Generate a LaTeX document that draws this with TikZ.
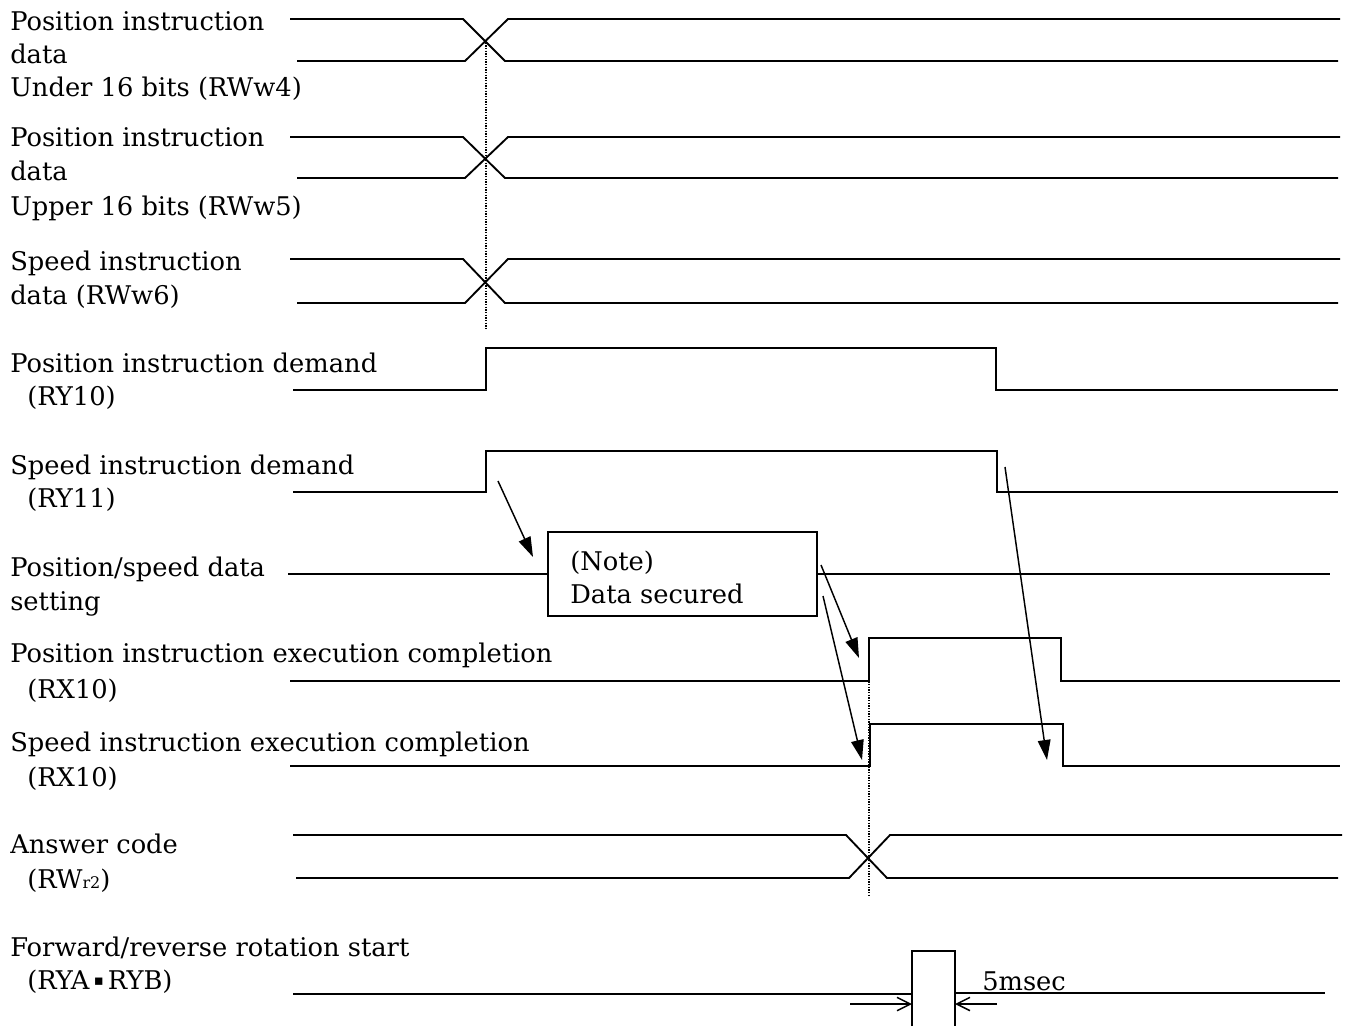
\documentclass[tikz,border=0pt]{standalone}
\usepackage{fontspec}
\setmainfont{DejaVu Serif}
\newfontfamily\symfont{DejaVu Sans}
\usetikzlibrary{arrows.meta}
\begin{document}
\begin{tikzpicture}[x=0.75pt,y=-0.75pt,
  wave/.style={line width=1.4pt, line join=miter},
  lbl/.style={anchor=base west, inner sep=0pt, font=\fontsize{19.3}{19.3}\selectfont},
  cause/.style={line width=1.1pt, -{Triangle[length=15pt,width=9.5pt]}},
  gap/.style={line width=1.1pt, -{Straight Barb[length=10pt,width=10pt]}},
  guide/.style={line width=0.9pt, dash pattern=on 1pt off 1pt}]
\useasboundingbox (0,0) rectangle (1345,1026);

% ---- signal names ----
\node[lbl] (l1a) at (10,30)  {Position instruction};
\node[lbl] (l1b) at (10,63)  {data};
\node[lbl] (l1c) at (10,96)  {Under 16 bits (RWw4)};
\node[lbl] (l2a) at (10,146) {Position instruction};
\node[lbl] (l2b) at (10,180) {data};
\node[lbl] (l2c) at (10,215) {Upper 16 bits (RWw5)};
\node[lbl] (l3a) at (10,270) {Speed instruction};
\node[lbl] (l3b) at (10,304) {data (RWw6)};
\node[lbl] (l4a) at (10,372) {Position instruction demand};
\node[lbl] (l4b) at (27,405) {(RY10)};
\node[lbl] (l5a) at (10,474) {Speed instruction demand};
\node[lbl] (l5b) at (27,507) {(RY11)};
\node[lbl] (l6a) at (10,576) {Position/speed data};
\node[lbl] (l6b) at (10,610) {setting};
\node[lbl] (l7a) at (10,662) {Position instruction execution completion};
\node[lbl] (l7b) at (27,698) {(RX10)};
\node[lbl] (l8a) at (10,751) {Speed instruction execution completion};
\node[lbl] (l8b) at (27,786) {(RX10)};
\node[lbl] (l9a) at (10,853) {Answer code};
\node[lbl] (l9b) at (27,888) {(RW{\fontsize{12}{12}\selectfont r2})};
\node[lbl] (l10a) at (10,956) {Forward/reverse rotation start};
\node[lbl] (l10b) at (27,989) {(RYA\,\raisebox{2.5pt}{\symfont\fontsize{11}{11}\selectfont ▪}\,RYB)};

% ---- data buses ----
\draw[wave] (290,19) -- (463,19) -- (505,61) -- (1338,61);
\draw[wave] (297,61) -- (465,61) -- (508,19) -- (1340,19);
\draw[wave] (290,137) -- (463,137) -- (505,178) -- (1338,178);
\draw[wave] (297,178) -- (465,178) -- (508,137) -- (1340,137);
\draw[wave] (290,259) -- (463,259) -- (505,303) -- (1338,303);
\draw[wave] (297,303) -- (465,303) -- (508,259) -- (1340,259);

% ---- demand bits ----
\draw[wave] (293,390) -- (486,390) -- (486,348) -- (996,348) -- (996,390) -- (1338,390);
\draw[wave] (293,492) -- (486,492) -- (486,451) -- (997,451) -- (997,492) -- (1338,492);

% ---- data setting with note ----
\node[draw, line width=1.4pt, minimum width=201.75pt, minimum height=63pt, inner sep=0pt]
  (note) at (682.5,574) {};
\node[lbl] (n1) at (570,570) {(Note)};
\node[lbl] (n2) at (570,603) {Data secured};
\draw[wave] (288,574) -- (note.west);
\draw[wave] (note.east) -- (1330,574);

% ---- completion bits ----
\draw[wave] (290,681) -- (869,681) -- (869,638) -- (1061,638) -- (1061,681) -- (1340,681);
\draw[wave] (290,766) -- (870,766) -- (870,724) -- (1063,724) -- (1063,766) -- (1340,766);

% ---- answer code bus ----
\draw[wave] (293,835) -- (846,835) -- (887,878) -- (1338,878);
\draw[wave] (296,878) -- (849,878) -- (890,835) -- (1342,835);

% ---- start pulse ----
\draw[wave] (293,994) -- (912,994);
\draw[wave] (912,1026) -- (912,951) -- (955,951) -- (955,1026);
\draw[wave] (955,993) -- (1325,993);

% ---- timing guides ----
\draw[guide] (486,40) -- (486,330);
\draw[guide] (869,660) -- (869,895);

% ---- cause/effect arrows ----
\coordinate (a1s) at (498,481); \coordinate (a1e) at (533,557);
\coordinate (a2s) at (821,565); \coordinate (a2e) at (859,658);
\coordinate (a3s) at (823,596); \coordinate (a3e) at (862,760);
\coordinate (a4s) at (1005,467); \coordinate (a4e) at (1047,760);
\draw[cause] (a1s) -- (a1e);
\draw[cause] (a2s) -- (a2e);
\draw[cause] (a3s) -- (a3e);
\draw[cause] (a4s) -- (a4e);

% ---- pulse width ----
\coordinate (w1s) at (850,1004); \coordinate (w1e) at (912,1004);
\coordinate (w2s) at (997,1004); \coordinate (w2e) at (955,1004);
\draw[gap] (w1s) -- (w1e);
\draw[gap] (w2s) -- (w2e);
\node[lbl] (ms) at (982,990) {5msec};
\end{tikzpicture}
\end{document}
